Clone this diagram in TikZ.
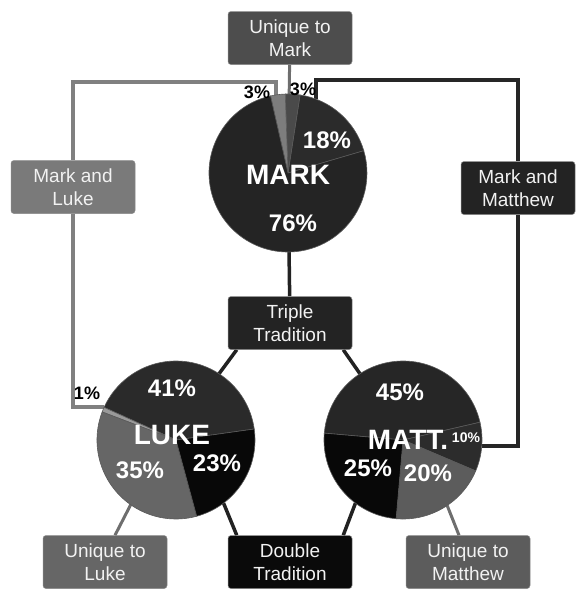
\documentclass[tikz,border=0pt]{standalone}
\usepackage{fontspec}
\setmainfont{Liberation Sans}
\usepackage{xcolor}
\usetikzlibrary{backgrounds}
\definecolor{ink}{HTML}{222222}
\definecolor{framegray}{HTML}{808080}
\definecolor{framedark}{HTML}{262626}
\definecolor{uniqgray}{HTML}{6E6E6E}
\definecolor{slicerim}{HTML}{5A5A5A}
\definecolor{boxrim}{HTML}{8A8A8A}
\definecolor{boxtext}{HTML}{F2F2F2}
% box fills
\definecolor{umarkfill}{HTML}{4D4D4D}
\definecolor{mlfill}{HTML}{7A7A7A}
\definecolor{mmfill}{HTML}{232323}
\definecolor{triplefill}{HTML}{232323}
\definecolor{doublefill}{HTML}{0A0A0A}
\definecolor{ulukefill}{HTML}{666666}
\definecolor{umattfill}{HTML}{5C5C5C}
% slice fills
\definecolor{mark76}{HTML}{242424}
\definecolor{mark18}{HTML}{2B2B2B}
\definecolor{markdark}{HTML}{4A4A4A}
\definecolor{marklight}{HTML}{7D7D7D}
\definecolor{luke41}{HTML}{2A2A2A}
\definecolor{luke23}{HTML}{080808}
\definecolor{luke35}{HTML}{666666}
\definecolor{luke1}{HTML}{9A9A9A}
\definecolor{matt45}{HTML}{262626}
\definecolor{matt10}{HTML}{2C2C2C}
\definecolor{matt20}{HTML}{5C5C5C}
\definecolor{matt25}{HTML}{080808}

\begin{document}
\begin{tikzpicture}[x=1pt,y=1pt,
  box/.style={draw=boxrim, line width=0.5pt, rounded corners=3pt, minimum width=124pt, minimum height=53pt, align=center, text=boxtext, font=\fontsize{19}{23}\selectfont},
  pie/.style={circle, minimum size=158pt, inner sep=0pt, outer sep=0pt},
  slice/.style={draw=slicerim, line width=0.6pt},
  bigname/.style={text=white, font=\bfseries\fontsize{28}{30}\selectfont},
  pct/.style={text=white, font=\bfseries\fontsize{24}{26}\selectfont},
  pctsmall/.style={text=white, font=\bfseries\fontsize{14}{16}\selectfont},
  pctout/.style={text=black, font=\bfseries\fontsize{18}{20}\selectfont},
  grayrun/.style={draw=framegray, line width=4pt},
  darkrun/.style={draw=framedark, line width=4pt},
  link/.style={draw=ink, line width=3.5pt},
  uniq/.style={draw=uniqgray, line width=3pt}]
  \useasboundingbox (0,0) rectangle (576,-589);

  % the three pies
  \node[pie] (mark) at (288,-173) {};
  \node[pie] (luke) at (176,-440) {};
  \node[pie] (matt) at (403,-440) {};
  \foreach \s/\e/\c in {16.4/81.2/mark18, 81.2/92/markdark, 92/102.8/marklight, 102.8/376.4/mark76}
    \filldraw[slice, fill=\c] (mark.center) -- ++(\s:79) arc[start angle=\s, end angle=\e, radius=79] -- cycle;
  \foreach \s/\e/\c in {8/155.6/luke41, 155.6/159.2/luke1, 159.2/285.2/luke35, 285.2/368/luke23}
    \filldraw[slice, fill=\c] (luke.center) -- ++(\s:79) arc[start angle=\s, end angle=\e, radius=79] -- cycle;
  \foreach \s/\e/\c in {13/175/matt45, -23/13/matt10, -95/-23/matt20, 175/265/matt25}
    \filldraw[slice, fill=\c] (matt.center) -- ++(\s:79) arc[start angle=\s, end angle=\e, radius=79] -- cycle;

  % pie labels
  \node[bigname] (marklbl) at (288,-175) {MARK};
  \node[pct] (mark18lbl) at (327,-140) {18\%};
  \node[pct] (mark76lbl) at (293,-223) {76\%};
  \node[pctout] (markllbl) at (257,-92) {3\%};
  \node[pctout] (markdlbl) at (303,-89) {3\%};
  \node[bigname] (lukelbl) at (172,-435) {LUKE};
  \node[pct] (luke41lbl) at (172,-388) {41\%};
  \node[pct] (luke23lbl) at (217,-463) {23\%};
  \node[pct] (luke35lbl) at (140,-470) {35\%};
  \node[pctout] (luke1lbl) at (87,-393) {1\%};
  \node[bigname] (mattlbl) at (408,-440) {MATT.};
  \node[pct] (matt45lbl) at (400,-392) {45\%};
  \node[pctsmall] (matt10lbl) at (466,-438) {10\%};
  \node[pct] (matt25lbl) at (368,-468) {25\%};
  \node[pct] (matt20lbl) at (428,-473) {20\%};

  % boxes
  \node[box, fill=umarkfill] (umark) at (290,-38) {Unique to\\Mark};
  \node[box, fill=mlfill] (markluke) at (73,-187) {Mark and\\Luke};
  \node[box, fill=mmfill, minimum width=114pt] (markmatt) at (518,-188) {Mark and\\Matthew};
  \node[box, fill=triplefill] (triple) at (290,-323) {Triple\\Tradition};
  \node[box, fill=ulukefill] (uluke) at (105,-562) {Unique to\\Luke};
  \node[box, fill=doublefill] (double) at (290,-562) {Double\\Tradition};
  \node[box, fill=umattfill] (umatt) at (468,-562) {Unique to\\Matthew};

  \coordinate (lukeknee) at (73,-82);
  \coordinate (mattknee) at (518,-80);

  % connectors
  \begin{scope}[on background layer]
    \draw[uniq] (umark) -- (mark);
    \draw[link] (mark) -- (triple);
    \draw[grayrun] (mark.99) |- (lukeknee) -- (markluke.north);
    \draw[grayrun] (markluke.south) |- (luke.155);
    \draw[darkrun] (mark.69.5) |- (mattknee) -- (markmatt.north);
    \draw[darkrun] (markmatt.south) |- (matt.-4);
    \draw[link] ([xshift=9pt]triple.south west) -- (luke.57);
    \draw[link] ([xshift=-9pt]triple.south east) -- (matt.123);
    \draw[link] (luke.-53) -- ([xshift=9pt]double.north west);
    \draw[link] (matt.-127) -- ([xshift=-9pt]double.north east);
    \draw[uniq] (luke.-125) -- ([xshift=10pt]uluke.north);
    \draw[uniq] (matt.-56) -- ([xshift=-9pt]umatt.north);
  \end{scope}
\end{tikzpicture}
\end{document}
